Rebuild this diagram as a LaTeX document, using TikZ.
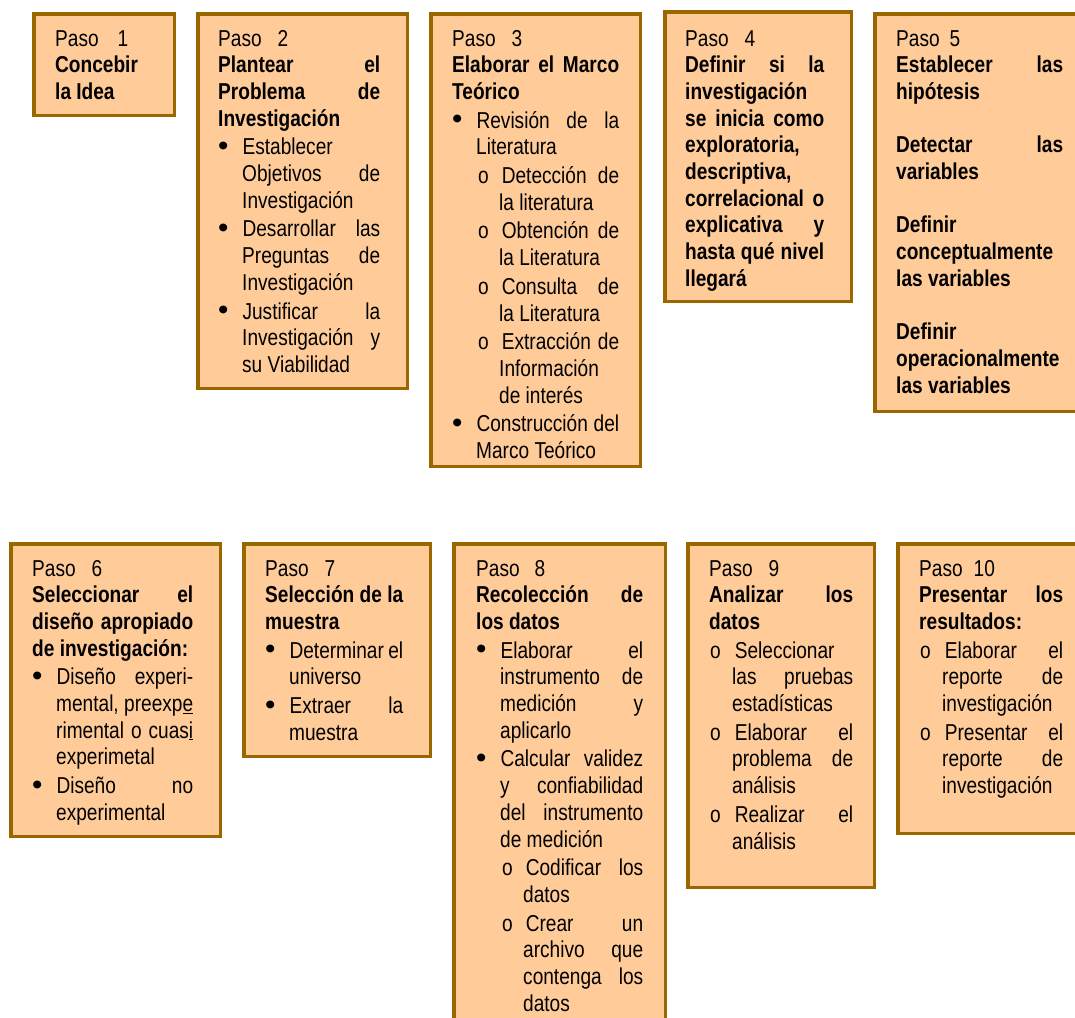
\documentclass[tikz,border=0pt]{standalone}
\usepackage{fontspec}
\setmainfont{Liberation Sans}[FakeStretch=0.83]
\usepackage{graphicx}
\usepackage{enumitem}
\newcommand{\pasobullet}{\raisebox{-0.8pt}{\scalebox{1.55}[1.25]{\textbullet}}}
\setlist[itemize]{nosep,itemsep=2pt,topsep=2pt,align=left}
\setlist[itemize,1]{label=\pasobullet,leftmargin=24pt,labelwidth=10pt,labelsep=14pt}
\setlist[itemize,2]{label=o,leftmargin=23pt,labelwidth=8pt,labelsep=13pt}
\newlist{circlist}{itemize}{1}
\setlist[circlist]{label=o,nosep,itemsep=2pt,topsep=2pt,align=left,leftmargin=23pt,labelwidth=8pt,labelsep=14pt}
\definecolor{borde}{HTML}{996600}
\definecolor{relleno}{HTML}{FFCC99}
\newcommand{\pasofont}{\fontsize{23pt}{26.7pt}\selectfont}
\newcommand{\pasolabel}[2][16pt]{Paso\hspace{#1}#2}
\hyphenpenalty=10000 \exhyphenpenalty=10000 \hbadness=10000
\begin{document}
\begin{tikzpicture}[x=1pt,y=-1pt]
  \useasboundingbox (0,0) rectangle (1075,1017);

  \begin{scope}[every node/.style={draw=borde,fill=relleno,line width=3.5pt,anchor=north west,inner sep=0pt}]
    \node[minimum width=140.5pt,minimum height=101.5pt] (b1)  at (32,12)  {};
    \node[minimum width=209.5pt,minimum height=374.5pt] (b2)  at (196,12) {};
    \node[minimum width=209.5pt,minimum height=452.5pt] (b3)  at (429,12) {};
    \node[minimum width=186.5pt,minimum height=289.5pt] (b4)  at (663,10) {};
    \node[minimum width=211.5pt,minimum height=397.5pt] (b5)  at (873,12) {};
    \node[minimum width=209.5pt,minimum height=292.5pt] (b6)  at (9,542)  {};
    \node[minimum width=186.5pt,minimum height=212.5pt] (b7)  at (242,542) {};
    \node[minimum width=211.5pt,minimum height=486.5pt] (b8)  at (452,542) {};
    \node[minimum width=186.5pt,minimum height=343.5pt] (b9)  at (686,542) {};
    \node[minimum width=188.5pt,minimum height=289.5pt] (b10) at (896,542) {};
  \end{scope}

  \begin{scope}[every node/.style={anchor=base west,inner sep=0pt,align=justify,font=\pasofont}]
    \node[text width=100pt] (t1) at ([xshift=23pt,yshift=-34pt]b1.north west)
      {\pasolabel[19pt]{1}\newline \textbf{Concebir\newline la Idea}};
    \node[text width=162pt] (t2) at ([xshift=22pt,yshift=-34pt]b2.north west)
      {\pasolabel{2}\newline
       \textbf{Plantear el\linebreak Problema de\linebreak Investigación}
       \begin{itemize}
         \item Establecer\newline Objetivos de\linebreak Investigación
         \item Desarrollar las\linebreak Preguntas de\linebreak Investigación
         \item Justificar la\linebreak Investigación y\linebreak su Viabilidad
       \end{itemize}};
    \node[text width=167pt] (t3) at ([xshift=23pt,yshift=-34pt]b3.north west)
      {\pasolabel{3}\newline
       \textbf{Elaborar el Marco\linebreak Teórico}
       \begin{itemize}
         \item Revisión de la\linebreak Literatura
         \begin{itemize}
           \item Detección de\linebreak la literatura
           \item Obtención de\linebreak la Literatura
           \item Consulta de\linebreak la Literatura
           \item Extracción de\linebreak Información\newline de interés
         \end{itemize}
         \item Construcción del\linebreak Marco Teórico
       \end{itemize}};
    \node[text width=139pt] (t4) at ([xshift=22pt,yshift=-36pt]b4.north west)
      {\pasolabel{4}\newline
       \textbf{Definir si la\linebreak investigación\newline se inicia como\linebreak
       exploratoria,\newline descriptiva,\newline correlacional o\linebreak
       explicativa y\linebreak hasta qué nivel\linebreak llegará}};
    \node[text width=167pt] (t5) at ([xshift=23pt,yshift=-34pt]b5.north west)
      {\pasolabel[10pt]{5}\newline
       \textbf{Establecer las\linebreak hipótesis}\par\vspace{26.7pt}
       \textbf{Detectar las\linebreak variables}\par\vspace{26.7pt}
       \textbf{Definir\newline conceptualmente\newline las variables}\par\vspace{26.7pt}
       \textbf{Definir\newline operacionalmente\newline las variables}};
    \node[text width=161pt] (t6) at ([xshift=23pt,yshift=-34pt]b6.north west)
      {\pasolabel{6}\newline
       \textbf{Seleccionar el\linebreak diseño apropiado\linebreak de investigación:}
       \begin{itemize}
         \item Diseño experi-\linebreak mental, preexp\underline{e}\linebreak
               rimental o cuas\underline{i}\linebreak experimetal
         \item Diseño no\linebreak experimental
       \end{itemize}};
    \node[text width=138pt] (t7) at ([xshift=23pt,yshift=-34pt]b7.north west)
      {\pasolabel{7}\newline
       \textbf{Selección de la\linebreak muestra}
       \begin{itemize}
         \item Determinar el\linebreak universo
         \item Extraer la\linebreak muestra
       \end{itemize}};
    \node[text width=167pt] (t8) at ([xshift=24pt,yshift=-34pt]b8.north west)
      {\pasolabel[15pt]{8}\newline
       \textbf{Recolección de\linebreak los datos}
       \begin{itemize}
         \item Elaborar el\linebreak instrumento de\linebreak medición y\linebreak aplicarlo
         \item Calcular validez\linebreak y confiabilidad\linebreak del instrumento\linebreak de medición
         \begin{itemize}
           \item Codificar los\linebreak datos
           \item Crear un\linebreak archivo que\linebreak contenga los\linebreak datos
         \end{itemize}
       \end{itemize}};
    \node[text width=144pt] (t9) at ([xshift=23pt,yshift=-34pt]b9.north west)
      {\pasolabel{9}\newline
       \textbf{Analizar los\linebreak datos}
       \begin{circlist}
         \item Seleccionar\newline las pruebas\linebreak estadísticas
         \item Elaborar el\linebreak problema de\linebreak análisis
         \item Realizar el\linebreak análisis
       \end{circlist}};
    \node[text width=144pt] (t10) at ([xshift=23pt,yshift=-34pt]b10.north west)
      {\pasolabel[11pt]{10}\newline
       \textbf{Presentar los\linebreak resultados:}
       \begin{circlist}
         \item Elaborar el\linebreak reporte de\linebreak investigación
         \item Presentar el\linebreak reporte de\linebreak investigación
       \end{circlist}};
  \end{scope}

\end{tikzpicture}
\end{document}
